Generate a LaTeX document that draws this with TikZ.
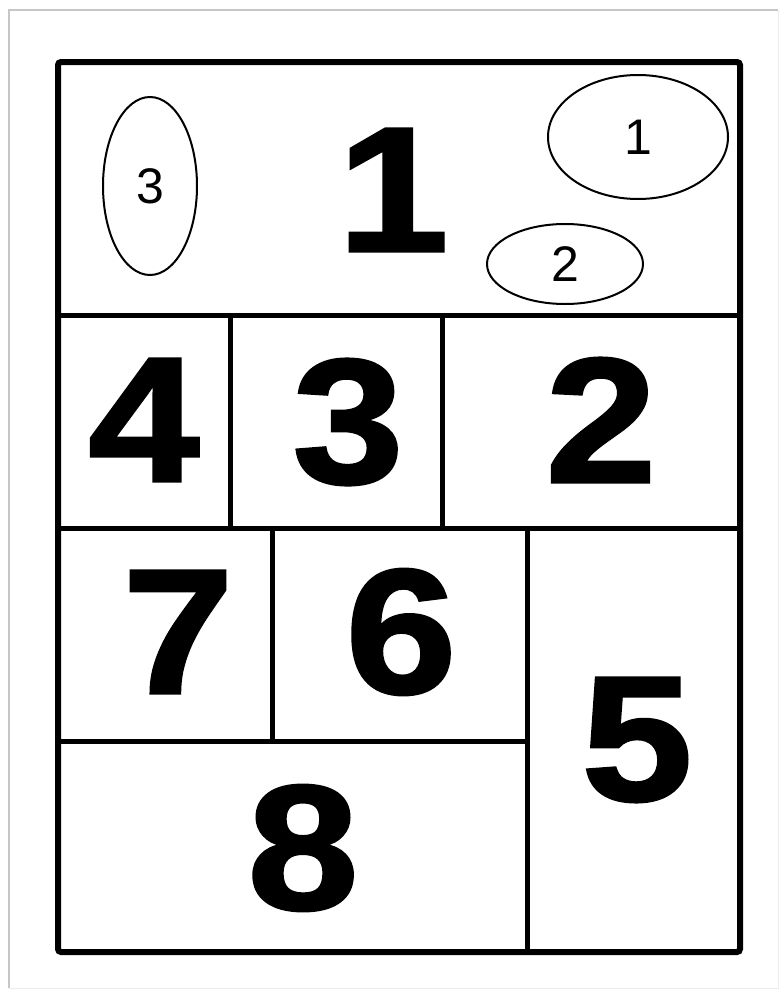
\documentclass[tikz,border=0pt]{standalone}
\usepackage{fontspec}
\setmainfont{Liberation Sans}
\newfontfamily\heavyfont[FakeBold=1.6]{Liberation Sans Bold}
\usetikzlibrary{shapes.geometric}

\tikzset{
  frame/.style={line width=6pt, rounded corners=3pt},
  wall/.style={line width=5pt},
  bignum/.style={font=\fontsize{178}{178}\heavyfont, inner sep=0pt},
  zone/.style={draw, ellipse, line width=2pt, inner sep=0pt, font=\fontsize{50}{50}\selectfont},
}

\begin{document}
\begin{tikzpicture}[x=1pt, y=-1pt]
			\useasboundingbox (0,0) rectangle (782,993);
			% scan border
			\draw[gray!45, line width=1.5pt] (9,988) -- (9,10) -- (778,10);
			\draw[gray!15, line width=1pt] (778,10) -- (778,988) -- (9,988);
			% plan
			\draw[frame] (58,62) rectangle (740,952);
			\draw[wall] (58,315) -- (740,315);
			\draw[wall] (58,528) -- (740,528);
			\draw[wall] (58,741) -- (527,741);
			\draw[wall] (230,315) -- (230,528);
			\draw[wall] (442,315) -- (442,528);
			\draw[wall] (272,528) -- (272,741);
			\draw[wall] (527,528) -- (527,952);
			% rooms
			\node[bignum] (r1) at (393,190) {\scalebox{1.12}[1]{1}};
			\node[bignum] (r4) at (144,420) {\scalebox{1.12}[1]{4}};
			\node[bignum] (r3) at (348,422) {\scalebox{1.12}[1]{3}};
			\node[bignum] (r2) at (601,420) {\scalebox{1.12}[1]{2}};
			\node[bignum] (r7) at (178,632) {\scalebox{1.12}[1]{7}};
			\node[bignum] (r6) at (401,632) {\scalebox{1.12}[1]{6}};
			\node[bignum] (r5) at (637,740) {\scalebox{1.12}[1]{5}};
			\node[bignum] (r8) at (303,848) {\scalebox{1.12}[1]{8}};
			% zones in room 1
			\node[zone, minimum width=94pt, minimum height=178pt] (z3) at (150,186) {3};
			\node[zone, minimum width=180pt, minimum height=124pt] (z1) at (638,137) {1};
			\node[zone, minimum width=156pt, minimum height=80pt] (z2) at (565,264) {2};
		\end{tikzpicture}
\end{document}
